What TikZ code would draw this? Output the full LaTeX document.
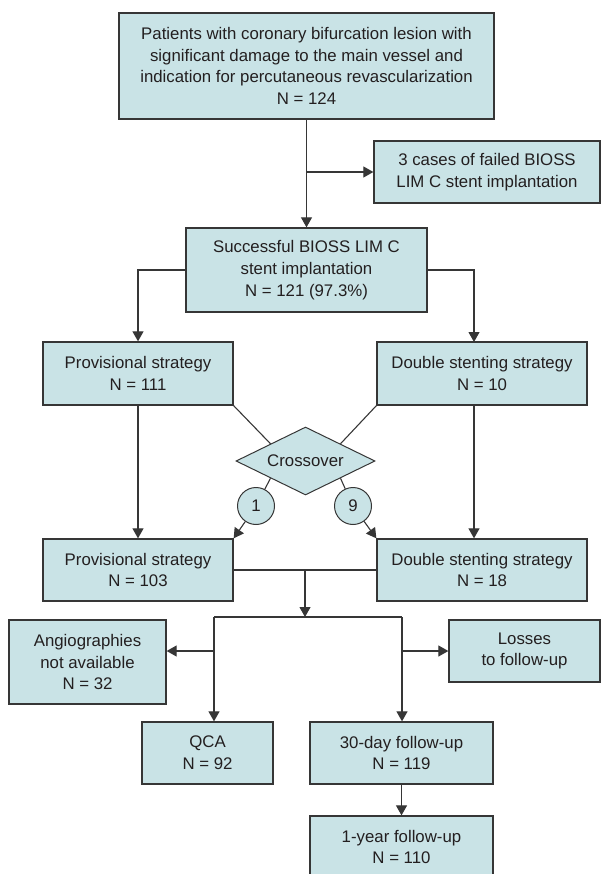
\documentclass[tikz,border=0pt]{standalone}
\usepackage{fontspec}
\setmainfont{Liberation Sans}
\usetikzlibrary{shapes.geometric,arrows.meta}
\definecolor{boxfill}{HTML}{C9E3E6}
\definecolor{boxline}{HTML}{363636}
\definecolor{inktext}{HTML}{231F20}

\begin{document}
\begin{tikzpicture}[x=1pt,y=-1pt,
box/.style={draw=boxline,fill=boxfill,rectangle,line width=1.3pt,inner sep=0pt,align=center,text=inktext,font=\fontsize{16.8}{21.7}\selectfont},
num/.style={box,circle,minimum size=37pt,line width=1pt},
choice/.style={box,diamond,aspect=2,minimum width=139pt,minimum height=68pt,line width=1pt},
link/.style={draw=boxline,line width=1.1pt},
arr/.style={link,-{Triangle[length=10pt,width=11pt]}}]
\useasboundingbox (0,0) rectangle (601,874);
\node (patients) [box,minimum width=375pt,minimum height=106pt] at (306.5,66)
    {Patients with coronary bifurcation lesion with\\significant damage to the main vessel and\\indication for percutaneous revascularization\\N = 124};
\node (failed) [box,minimum width=226pt,minimum height=62pt] at (487,172)
    {3 cases of failed BIOSS\\LIM C stent implantation};
\node (success) [box,minimum width=241pt,minimum height=84pt] at (306.5,270)
    {Successful BIOSS LIM C\\stent implantation\\N = 121 (97.3\%)};
\node (prov) [box,minimum width=190pt,minimum height=63pt] at (138,373.5)
    {Provisional strategy\\N = 111};
\node (dbl) [box,minimum width=210pt,minimum height=63pt] at (482,373.5)
    {Double stenting strategy\\N = 10};
\node (cross) [choice] at (305.5,461) {Crossover};
\node (one) [num] at (256,506) {1};
\node (nine) [num] at (353,506) {9};
\node (provfin) [box,minimum width=190pt,minimum height=62pt] at (138,570)
    {Provisional strategy\\N = 103};
\node (dblfin) [box,minimum width=210pt,minimum height=62pt] at (482,570)
    {Double stenting strategy\\N = 18};
\node (angio) [box,minimum width=157pt,minimum height=84pt] at (87.5,662)
    {Angiographies\\not available\\N = 32};
\node (losses) [box,minimum width=151pt,minimum height=62pt] at (524.5,651)
    {Losses\\to follow-up};
\node (qca) [box,minimum width=131pt,minimum height=62pt] at (207.5,753)
    {QCA\\N = 92};
\node (day30) [box,minimum width=183pt,minimum height=62pt] at (401.5,753)
    {30-day follow-up\\N = 119};
\node (year1) [box,minimum width=183pt,minimum height=62pt] at (401.5,847)
    {1-year follow-up\\N = 110};

\coordinate (fork) at (306.5,172);
\coordinate (dblin) at (474,342);
\coordinate (join) at (305,570);
\coordinate (split) at (305,617);
\coordinate (lsplit) at (214,617);
\coordinate (rsplit) at (402,617);

\draw[arr] (patients) -- (success);
\draw[arr] (fork) -- (failed.west);
\draw[arr] (success.west) -| (prov.north);
\draw[arr] (success.east) -| (dblin);
\draw[arr] (prov) -- (provfin);
\draw[arr] (dbl.south -| dblin) -- (dblfin.north -| dblin);
\draw[link] (prov.south east) -- (cross.north west);
\draw[link] (dbl.south west) -- (cross.north east);
\draw[link] (cross.south west) -- (one);
\draw[arr] (one) -- (provfin.north east);
\draw[link] (cross.south east) -- (nine);
\draw[arr] (nine) -- (dblfin.north west);
\draw[link] (provfin) -- (dblfin);
\draw[arr] (join) -- (split);
\draw[link] (lsplit) -- (rsplit);
\draw[arr] (lsplit) -- (lsplit |- qca.north);
\draw[arr] (rsplit) -- (rsplit |- day30.north);
\draw[arr] (lsplit |- losses.west) -- (angio.east |- losses.west);
\draw[arr] (rsplit |- losses.west) -- (losses.west);
\draw[arr] (day30) -- (year1);
\end{tikzpicture}
\end{document}
